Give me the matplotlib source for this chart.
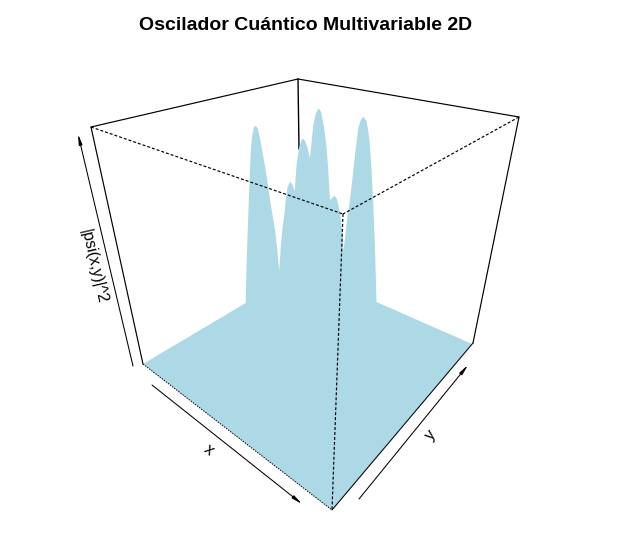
import matplotlib
matplotlib.use("Agg")
import matplotlib.pyplot as plt

plt.rcParams['font.family'] = ['Liberation Sans', 'DejaVu Sans']

TITLE = "Oscilador Cuántico Multivariable 2D"
X_LABEL = "x"
Y_LABEL = "y"
Z_LABEL = "|psi(x,y)|^2"

# Projected surface outline (pixel scale of the figure)
outline_x = [143, 245.7, 246.7, 248.3, 249.3, 250.7, 252, 254, 255.7, 257.7, 260, 263.3, 266.7,
             270, 272.5, 275, 277.3, 279.3, 281, 282.7, 284.5, 285.7, 287.7, 290.3, 292.7,
             294.7, 296.7, 299.3, 302.3, 305, 307.7, 309.7, 310.5, 313.3, 316, 318.7, 321,
             324, 326.7, 328.3, 330, 332, 334.3, 336.7, 338.3, 340, 342.3, 343.3, 345, 347.3,
             349.3, 351.7, 355, 358.3, 361, 364, 366.7, 369.3, 371.7, 373.3, 375, 376.5,
             472, 332]
outline_y = [364, 303, 260, 215, 186.7, 153, 136.7, 127.3, 125.7, 128.3, 138.3, 156.7, 176.7,
             200, 215, 230, 250, 271, 243.3, 226.7, 213, 200, 186.7, 181.7, 185,
             191.7, 163.3, 146.7, 138.3, 140.7, 148.3, 158, 153, 125, 113, 108.3, 111.7,
             126.7, 148.3, 171.7, 200, 198.3, 195.7, 198.3, 205, 213, 231.7, 251.7, 238, 218,
             205, 185, 155, 128.3, 119.3, 117, 121.7, 138.3, 171.7, 205, 248, 302,
             344, 510]

# Projected box corners
left_top = (91, 127)
back_top = (298, 79)
right_top = (519, 117)
front_top = (343, 214)
left_bottom = (143, 364)
right_bottom = (473, 343)
front_bottom = (332, 510)
back_hidden = (299, 149)

# Axis arrows (start, end)
x_arrow = ((152, 385), (302, 504))
y_arrow = ((359, 499), (468, 365))
z_arrow = ((133, 366), (78, 134))

fig = plt.figure(figsize=(6.26, 5.54), dpi=100, facecolor="white")
ax = fig.add_axes([0, 0, 1, 1])
ax.set_xlim(0, 626)
ax.set_ylim(554, 0)
ax.axis("off")


def seg(p, q, **kw):
    ax.plot([p[0], q[0]], [p[1], q[1]], color="black", solid_capstyle="round", **kw)


SOLID = dict(lw=0.85, zorder=1)
DOT = dict(lw=0.85, linestyle=(0, (2.5, 1.7)), zorder=3)

seg(left_top, back_top, **SOLID)
seg(back_top, right_top, **SOLID)
seg(back_top, back_hidden, lw=1.0, zorder=1)
seg(left_top, left_bottom, **SOLID)
seg(right_top, right_bottom, **SOLID)

ax.fill(outline_x, outline_y, color="#ADD8E6", lw=0, zorder=2)

seg(left_top, front_top, **DOT)
seg(right_top, front_top, **DOT)
seg(front_top, front_bottom, **DOT)
seg(left_bottom, front_bottom, lw=0.7, linestyle=(0, (1.5, 1.2)), zorder=3)
seg(right_bottom, front_bottom, lw=0.75, zorder=3)

for start, end in (x_arrow, y_arrow, z_arrow):
    ax.annotate("", xy=end, xytext=start, xycoords="data", textcoords="data",
                arrowprops=dict(arrowstyle="-|>,head_length=0.6,head_width=0.1",
                                color="black", lw=0.75, shrinkA=0, shrinkB=0))

ax.text(209, 450, X_LABEL, rotation=-38, ha="center", va="center", fontsize=11.5,
        rotation_mode="anchor")
ax.text(431, 435, Y_LABEL, rotation=50, ha="center", va="center", fontsize=11.5,
        rotation_mode="anchor")
ax.text(93, 266, Z_LABEL, rotation=-77, ha="center", va="center", fontsize=11.5,
        rotation_mode="anchor")
ax.text(305.5, 25, TITLE, ha="center", va="center", fontsize=14, fontweight="bold")

fig.savefig("out.png", dpi=100, facecolor="white")
